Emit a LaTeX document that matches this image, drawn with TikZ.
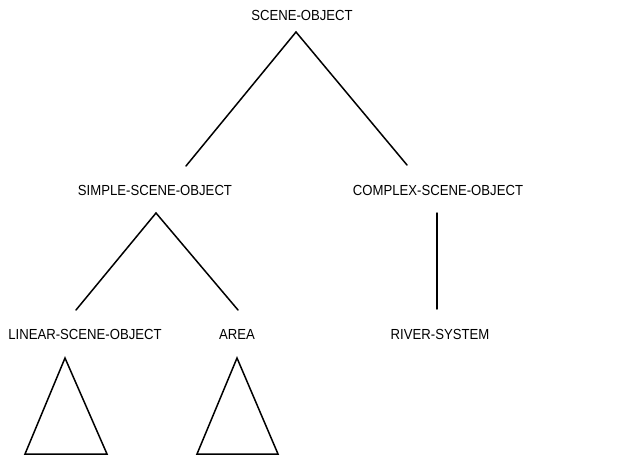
\documentclass[tikz,border=0pt]{standalone}
\usepackage{fontspec}
\setmainfont{Liberation Sans}[FakeStretch=0.9]
\begin{document}
\begin{tikzpicture}[x=1pt,y=-1pt,
  lbl/.style={font=\fontsize{14.6}{17}\selectfont, inner sep=0pt, anchor=center},
  edge/.style={line width=1.5pt, line cap=round, line join=miter},
  tri/.style={line width=1.5pt, line join=miter}]
\useasboundingbox (0,0) rectangle (631,457);
\node[lbl] (so) at (302,15) {SCENE-OBJECT};
\node[lbl] (sso) at (155,190) {SIMPLE-SCENE-OBJECT};
\node[lbl] (cso) at (438,190) {COMPLEX-SCENE-OBJECT};
\node[lbl] (lso) at (85,334) {LINEAR-SCENE-OBJECT};
\node[lbl] (area) at (237,334) {AREA};
\node[lbl] (rs) at (440,334) {RIVER-SYSTEM};
\coordinate (soA) at (296,32);
\coordinate (ssoT) at (186,166);
\coordinate (csoT) at (407,165);
\coordinate (ssoA) at (156,213);
\coordinate (lsoT) at (76,310);
\coordinate (areaT) at (238,310);
\coordinate (csoB) at (437,213);
\coordinate (rsT) at (437,309);
\draw[edge] (ssoT) -- (soA) -- (csoT);
\draw[edge] (lsoT) -- (ssoA) -- (areaT);
\draw[edge] (csoB) -- (rsT);
\draw[tri] (65,358) -- (25,454) -- (107,454) -- cycle;
\draw[tri] (237,358) -- (197,454) -- (278,454) -- cycle;
\end{tikzpicture}
\end{document}
